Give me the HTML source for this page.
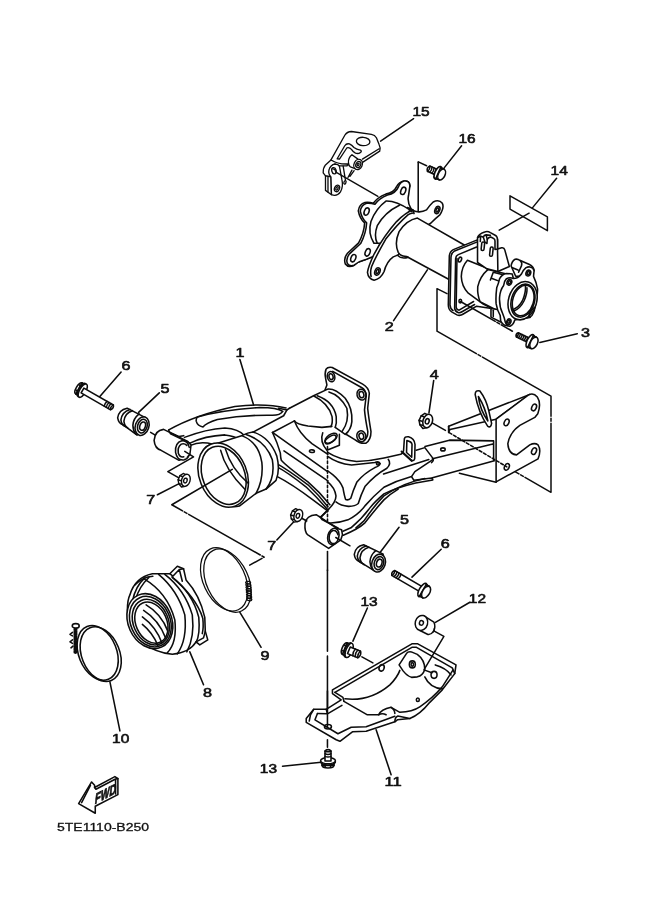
<!DOCTYPE html>
<html><head><meta charset="utf-8"><title>5TE1110-B250</title>
<style>
html,body{margin:0;padding:0;background:#fff;}
body{width:661px;height:913px;overflow:hidden;font-family:"Liberation Sans",sans-serif;}
svg{display:block;}
.l{fill:none;stroke:#0c0c0c;stroke-linecap:round;stroke-linejoin:round;}
.w{fill:#fff;stroke:#0c0c0c;stroke-linecap:round;stroke-linejoin:round;}
.k{fill:#1a1a1a;stroke:none;}
.t{font-family:"Liberation Sans",sans-serif;font-size:12.9px;fill:#111;stroke:#111;stroke-width:0.62px;stroke-linejoin:round;}
</style></head><body>
<svg width="661" height="913" viewBox="0 0 661 913">
<rect width="661" height="913" fill="#fff"/>
<!-- 05_leaders_top -->
<g class="l" stroke-width="1.50">
<!-- 15 leader -->
<path d="M413.6,118.7 L380.6,141.2"/>
<!-- 16 leader -->
<path d="M461.6,145.8 L443.6,168.6"/>
<!-- bracket tick 16 -->
<path d="M418.3,161.9 L426.6,165.8"/>
<!-- 14 -->
<path d="M510,195.8 L547.4,216.9 L547.4,230.7 L510,209.1 Z"/>
<path d="M556.6,178.3 L532.4,207.9 M529.1,213.2 L499.2,230.2"/>
<!-- 3 leader -->
<path d="M577.3,333.7 L539.8,342.4"/>
<!-- bracket dash-dot line right -->
<path d="M447,293.7 L437,288.7 L437,331.2 L551.0,396.2 L551.0,492.3 L509.8,468.6" stroke-dasharray="99 2 3 2"/>
</g>
<!-- 06_leaders_misc -->
<g class="l" stroke-width="1.56">
<path d="M239.9,359.6 L253.6,404.9"/>
<path d="M121.1,372 L99.4,396.9"/>
<path d="M159.3,392.9 L138.6,412.4"/>
<path d="M157.4,494.8 L179.1,483.6"/>
</g>
<!-- 10_p15 -->
<g transform="translate(318,122) scale(0.09985)" stroke-width="13.20">
<!-- upper plate -->
<path class="w" d="M130,380 L270,130 Q290,98 335,95 L535,124 Q570,130 585,158 L612,225 Q630,262 618,292 L450,402 L300,430 L200,425 Z"/>
<path class="l" d="M612,268 L445,372"/>
<ellipse class="w" cx="452" cy="195" rx="68" ry="42" transform="rotate(4 452 195)"/>
<!-- hook slot -->
<path class="w" d="M192,368 L268,238 Q285,212 315,220 Q340,232 360,255 Q385,275 425,282 Q442,290 425,305 Q405,322 375,312 Q350,300 335,275 Q315,250 290,258 L215,372 Z"/>
<!-- lower-left arm -->
<path class="w" d="M130,380 L75,430 Q50,460 52,510 L75,540 L130,550 L120,470 Q130,430 170,420 L215,440 L290,440 L300,420 Q200,425 130,380 Z"/>
<!-- tab left face -->
<path class="w" d="M75,540 L75,685 L135,728 L130,550 Z"/>
<path class="l" d="M100,548 L100,700"/>
<!-- tab front -->
<path class="w" d="M130,550 Q100,520 110,480 Q125,430 170,422 Q205,425 215,445 L240,580 Q255,650 225,700 Q190,750 135,728 Z"/>
<ellipse class="l" cx="160" cy="488" rx="22" ry="32" transform="rotate(-15 160 488)"/>
<path class="l" d="M150,470 Q170,470 175,490"/>
<ellipse class="l" cx="190" cy="665" rx="24" ry="34" transform="rotate(25 190 665)"/>
<ellipse class="l" cx="190" cy="665" rx="10" ry="18" transform="rotate(25 190 665)"/>
<!-- ribs -->
<path class="l" d="M252,442 L274,578 M340,482 L300,556 M362,488 L320,545"/>
<ellipse class="l" cx="270" cy="605" rx="10" ry="18" transform="rotate(20 270 605)"/>
<!-- boss -->
<path class="w" d="M340,328 Q300,360 305,410 Q308,440 325,450 L385,472 L430,400 L400,372 Z"/>
<ellipse class="w" cx="402" cy="425" rx="41" ry="53" transform="rotate(25 402 425)"/>
<ellipse class="l" cx="404" cy="426" rx="24" ry="32" transform="rotate(25 404 426)"/>
<ellipse class="l" cx="402" cy="425" rx="9" ry="13" transform="rotate(25 402 425)"/>
<!-- leader from hole to flange -->
<path class="l" d="M175,500 L600,745"/>
</g>
<!-- 20_p2_flange -->
<g transform="translate(340,170) scale(0.16641)" stroke-width="9.36">
<!-- rear flange back face -->
<path class="w" id="rf" d="M420,235 Q392,190 402,150 L420,95 Q418,62 385,66 Q355,72 340,100 Q325,135 275,145 Q225,165 200,200 Q175,192 150,195 Q115,205 110,245 Q118,290 148,318 Q145,375 112,438 L45,500 Q20,530 32,565 Q50,590 85,572 Q110,550 150,540 L210,515 L300,300 Z"/>
<path class="w" d="M428,235 Q402,192 412,152 L420,95 Q418,62 385,66 Q362,72 350,103 Q335,140 285,150 Q235,170 210,206 Q185,198 160,200 Q128,210 122,247 Q130,290 160,318 Q157,378 124,442 L57,504 Q34,532 44,562 Q58,582 85,572 Q110,550 150,540 L210,515 L300,300 Z"/>
<ellipse class="l" cx="380" cy="125" rx="14" ry="23" transform="rotate(22 380 125)"/>
<ellipse class="l" cx="160" cy="250" rx="14" ry="23" transform="rotate(22 160 250)"/>
<ellipse class="l" cx="80" cy="530" rx="14" ry="23" transform="rotate(22 80 530)"/>
<ellipse class="l" cx="166" cy="495" rx="14" ry="23" transform="rotate(22 166 495)"/>
<!-- hub -->
<path class="w" d="M278,186 Q215,232 186,310 Q166,380 204,440 L300,440 L420,240 Q340,185 278,186 Z"/>
<path class="l" d="M357,212 Q268,255 224,335 Q202,395 224,440"/>

<!-- front flange -->
<path class="w" d="M545,320 Q575,290 600,270 Q628,225 615,200 Q595,175 560,192 Q535,215 520,240 Q480,262 435,242 Q395,255 340,310 Q265,395 205,505 Q170,580 165,615 Q170,655 205,662 Q245,655 265,610 Q280,550 320,522 L350,510 L420,400 Z"/>
<path class="l" d="M187,640 Q180,610 190,580 Q215,520 275,415 Q345,325 410,268 Q425,258 440,258"/>
<ellipse class="l" cx="585" cy="240" rx="14" ry="23" transform="rotate(22 585 240)"/>
<ellipse class="l" cx="225" cy="610" rx="15" ry="23" transform="rotate(22 225 610)"/>
<ellipse class="l" cx="585" cy="240" rx="7" ry="13" transform="rotate(22 585 240)"/>
<ellipse class="l" cx="225" cy="610" rx="7" ry="13" transform="rotate(22 225 610)"/>
<path class="l" d="M405,225 L440,240 L445,262 M420,230 L432,250"/>
<!-- tube -->
<path class="w" d="M465,289 L760,458 L760,720 L661,661 L400,520 Q365,520 350,495 Q325,440 355,370 Q400,300 465,288 Z"/>
<path class="l" d="M345,512 Q370,538 410,524"/>
<!-- vertical line from 16 -->
<path class="l" d="M470,-46 L470,250"/>
<!-- leader 2 -->
<path class="l" d="M525,600 L322,905"/>
</g>
<!-- 22_p2_plate -->
<g transform="translate(435,215) scale(0.16641)" stroke-width="9.36">
<!-- square plate -->
<path class="w" d="M258,148 L110,208 Q88,220 86,248 L80,540 Q80,570 100,582 L132,600 Q150,608 170,595 L250,548 L330,560 L300,300 Z"/>
<path class="l" d="M258,160 L118,216 Q98,228 96,254 L90,540 Q92,565 108,574"/>
<path class="l" d="M250,192 L140,238 Q125,245 124,262 L118,560 Q120,580 138,586 Q150,590 165,580 L238,538"/>
<path class="l" d="M132,262 L127,555 Q130,570 145,572 L232,520"/>
<ellipse class="l" cx="150" cy="268" rx="9" ry="15" transform="rotate(22 150 268)"/>
<ellipse class="l" cx="152" cy="517" rx="8" ry="11"/>
<!-- body cylinder -->
<path class="w" d="M195,272 Q160,310 158,370 Q160,430 200,470 L290,535 L340,560 L340,330 Z"/>
</g>
<g transform="translate(472,228) scale(0.11498)" stroke-width="13.56">
<!-- body -->
<path class="w" d="M140,360 Q70,420 50,510 Q45,580 70,640 L215,715 L300,720 L300,400 Z"/>
<path class="l" d="M185,385 L160,452 M185,385 L262,405 M175,440 L235,462"/>
<!-- lower lug -->
<path class="w" d="M165,700 L165,775 L245,815 L290,830 L290,720 Z"/>
<path class="l" d="M185,715 L185,770"/>
<!-- tab -->
<path class="w" d="M48,82 L48,300 L130,355 L225,378 L325,335 L285,190 Q280,168 258,172 L222,182 L222,100 L120,40 Z"/>
<path class="l" d="M222,182 L225,378 M130,355 L140,362"/>
<path class="w" d="M50,82 Q55,55 110,35 Q135,25 160,40 L205,65 Q224,78 222,112 L222,182 L200,186 L200,112 Q200,98 190,92 L168,80 Q145,76 133,98 L130,135 L112,122 L98,78 L75,72 Z"/>
<path class="l" d="M75,72 L72,118 M98,78 Q105,62 122,60 L160,64 M122,60 L133,98"/>
<rect class="w" x="82" y="122" width="25" height="74" rx="12" transform="rotate(6 95 160)"/>
<rect class="w" x="156" y="166" width="25" height="80" rx="12" transform="rotate(6 170 205)"/>
<!-- flange thickness -->
<path class="w" d="M300,395 Q262,400 240,440 Q232,480 215,520 Q205,600 210,660 Q220,720 245,760 L250,810 Q270,850 310,850 L400,600 L350,400 Z"/>
<!-- top lug -->
<path class="w" d="M340,330 Q345,290 375,272 Q395,266 420,283 L500,318 Q535,335 540,370 L500,420 L380,420 Z"/>
<path class="l" d="M352,345 L400,365 M420,283 Q440,300 430,330 L405,385"/>
<!-- flange front -->
<path class="w" d="M505,340 Q535,345 540,372 L535,420 Q560,470 570,530 Q572,600 548,680 Q548,720 522,760 Q500,790 470,780 Q420,790 372,800 Q360,842 330,855 Q300,852 290,820 Q285,790 265,740 Q235,680 240,600 Q245,540 275,500 Q280,460 300,440 Q330,425 360,440 Q400,440 430,400 Q445,365 470,345 Q490,335 505,340 Z"/>
<ellipse class="w" cx="440" cy="632" rx="122" ry="170" transform="rotate(17 440 632)"/>
<ellipse class="l" cx="443" cy="632" rx="100" ry="147" transform="rotate(17 443 632)"/>
<ellipse class="l" cx="445" cy="631" rx="90" ry="136" transform="rotate(17 445 631)"/>
<path class="l" d="M465,500 Q470,560 440,630 Q410,690 352,712"/>
<path class="l" d="M478,520 Q482,570 452,635 Q420,700 365,722"/>
<ellipse class="l" cx="325" cy="472" rx="20" ry="26" transform="rotate(20 325 472)"/>
<ellipse class="l" cx="325" cy="472" rx="10" ry="14" transform="rotate(20 325 472)"/>
<ellipse class="l" cx="490" cy="392" rx="20" ry="26" transform="rotate(20 490 392)"/>
<ellipse class="l" cx="490" cy="392" rx="10" ry="14" transform="rotate(20 490 392)"/>
<ellipse class="l" cx="320" cy="815" rx="18" ry="25" transform="rotate(20 320 815)"/>
<ellipse class="l" cx="320" cy="815" rx="9" ry="13" transform="rotate(20 320 815)"/>
<path class="l" d="M545,690 Q530,700 500,745 Q490,770 505,778"/>
</g>
<!-- 28_body -->
<g transform="translate(262,360) scale(0.16641)" stroke-width="9.36">
<!-- flange -->
<path class="w" d="M385,55 Q395,40 422,45 L605,145 Q640,165 645,200 L635,290 Q640,340 655,430 Q655,480 625,500 Q590,505 560,480 L495,440 L375,190 L390,150 L383,115 Q375,80 385,55 Z"/>
<path class="l" d="M425,68 L598,165 Q625,180 626,215 L616,300 Q620,350 636,430 Q636,468 615,482"/>
<ellipse class="l" cx="415" cy="100" rx="22" ry="31" transform="rotate(-15 415 100)"/>
<ellipse class="l" cx="415" cy="100" rx="12" ry="18" transform="rotate(-15 415 100)"/>
<ellipse class="l" cx="598" cy="208" rx="27" ry="33" transform="rotate(-15 598 208)"/>
<ellipse class="l" cx="598" cy="208" rx="14" ry="19" transform="rotate(-15 598 208)"/>
<ellipse class="l" cx="597" cy="458" rx="27" ry="33" transform="rotate(-15 597 458)"/>
<ellipse class="l" cx="597" cy="458" rx="14" ry="19" transform="rotate(-15 597 458)"/>
<!-- neck -->
<path d="M165,290 L310,215 L395,175 Q440,170 500,230 Q545,290 540,370 Q535,420 500,447 L440,405 L420,399 L360,405 L276,397 Q208,386 195,366 Z" fill="#fff" stroke="none"/>
<path class="l" d="M165,290 L310,215 L395,175 Q440,170 500,230 Q545,290 540,370 Q535,420 500,447 L440,405"/>
<path class="l" d="M195,366 Q208,386 276,397 L360,405 L420,399"/>
<path class="l" d="M402,192 Q470,212 510,290 Q525,370 482,428"/>
<path class="l" d="M332,215 Q430,250 446,340 Q450,380 440,405"/>
<path class="l" d="M312,216 Q400,260 421,340 Q426,380 414,400"/>
<!-- body lines -->
<path class="l" d="M100,290 L150,300 L165,290"/>
<path class="l" d="M150,300 L130,335 L-80,448"/>
<path class="l" d="M63,435.5 L195,366"/>
<path class="l" d="M195,366 Q222,440 300,502 L396,567"/>
<path class="l" d="M63,435.5 L396,672.5"/>
<path class="l" d="M132,546.5 L396,726.5"/>
<ellipse class="l" cx="300" cy="548" rx="15" ry="8" transform="rotate(8 300 548)"/>
<path class="l" d="M63,435.5 Q92,495 110,558 Q112,590 116,602 Q150,640 276,732 Q350,795 408,870"/>
<path class="l" d="M81,618 Q150,655 276,750 Q345,815 396,882"/>
<path class="l" d="M90,642 Q150,672 264,762 Q335,830 390,894"/>
<path class="l" d="M84,696 Q180,745 306,840 L396,908"/>
<!-- neck bottom -->
<path class="l" d="M365,437 Q345,490 390,542 L465,512 L465,447"/>
<ellipse class="l" cx="415" cy="470" rx="42" ry="22" transform="rotate(-35 415 470)"/>
<ellipse class="l" cx="412" cy="478" rx="38" ry="17" transform="rotate(-35 412 478)"/>
</g>
<!-- 29_arm_right -->
<g transform="translate(325,420) scale(0.16641)" stroke-width="9.36">
<!-- top edge of arm -->
<path class="l" d="M16,195 Q85,240 190,249 Q280,245 355,228 L455,206 L478,192 M548,182 L600,166 L650,232 Q655,245 640,256"/>
<path class="l" d="M352,324 L624,238"/>
<!-- pocket inner -->
<path class="l" d="M16,219 Q75,262 160,271 L300,255 Q322,246 332,262 Q328,276 300,286 Q235,320 192,372 Q168,425 155,470 Q140,484 124,478 Q116,455 108,408 Q90,365 48,330 L16,305"/>
<ellipse class="l" cx="318" cy="263" rx="9" ry="7"/>
<!-- pocket outer border -->
<path class="l" d="M380,236 Q400,262 372,290 Q300,330 240,400 Q215,450 200,502 Q180,520 140,519 Q95,515 66,492"/>
<!-- edge B continuation -->
<path class="l" d="M16,372 Q58,405 66,456 Q66,492 18,540 L-18,576"/>
<!-- lower edge of top face -->
<path class="l" d="M648,238 L540,310 L520,340 Q430,365 354,404 Q290,458 240,516 Q200,570 138,600 Q80,622 16,618 L-18,594 L-24,582 L6,552"/>
<!-- bottom edges -->
<path class="l" d="M520,340 L534,362 L642,348 L648,360 L545,378 Q430,405 354,444 Q300,490 270,528 Q222,594 156,648 L108,668"/>
<path class="l" d="M600,352 Q470,378 354,456 Q300,510 234,606 L186,648"/>
<path class="l" d="M440,415 Q390,445 354,480 Q300,540 240,618 Q200,655 110,692"/>
<!-- loop -->
<path class="w" d="M477,112 Q480,99 502,101 Q538,112 541,147 L539,232 Q536,248 519,242 L466,195 Q470,190 472,186 Z"/>
<path class="l" d="M492,124 Q520,130 523,146 L521,224 L490,195 Z"/>
<path class="l" d="M460,189 L522,246" stroke-width="12.00"/>
<!-- vertical dotted -->
<path class="l" d="M15,160 L15,640" stroke-dasharray="15 14" stroke-linecap="butt"/>
<path class="l" d="M15,790 L15,905"/>
<!-- lower boss -->
<path class="w" d="M-53,569 Q-112,572 -120,622 Q-124,675 -103,690 L22,772 L95,720 L105,690 L100,660 L74,652 Z"/>
<ellipse class="w" cx="50" cy="700" rx="33" ry="50" transform="rotate(15 50 700)"/>
<path class="l" d="M78,690 Q70,660 48,664 Q22,675 25,715 Q32,748 60,742"/>
<path class="l" d="M-30,580 L-18,598 L80,650"/>
<path class="l" d="M65,706 L150,756"/>
<!-- bushing 5 -->
<path class="w" d="M232,750 Q182,760 176,808 Q180,842 205,850 L300,908 L350,806 Z"/>
<path class="l" d="M248,757 Q200,770 194,818 Q198,850 220,860 M263,764 Q216,778 210,828 Q214,858 236,870"/>
<path class="l" d="M305,785 Q272,812 270,852 Q272,880 285,898"/>
<ellipse class="w" cx="322" cy="860" rx="40" ry="55" transform="rotate(18 322 860)"/>
<ellipse class="l" cx="324" cy="860" rx="28" ry="40" transform="rotate(18 324 860)"/>
<ellipse class="l" cx="326" cy="860" rx="16" ry="24" transform="rotate(18 326 860)"/>
<!-- leader 5 -->
<path class="l" d="M445,645 L332,795"/>
</g>
<!-- 30_arm_left -->
<g transform="translate(160,370) scale(0.24962)" stroke-width="6.24">
<!-- arm lines -->
<path class="l" d="M35,240 Q140,180 300,146 Q420,132 505,152"/>
<path class="l" d="M150,188 Q250,160 400,150 Q470,150 492,166 Q480,184 440,181 Q330,180 230,198 Q185,212 172,228 Q150,224 145,205 Q144,194 150,188 Z"/>
<path class="l" d="M98,270 Q185,236 260,232 Q315,236 338,262"/>
<path class="l" d="M120,293 Q180,264 260,260 Q300,264 320,280"/>
<path class="l" d="M122,302 Q160,284 212,297"/>
<path class="l" d="M40,250 L75,266 L95,263"/>
<!-- big ring cylinder + collar -->
<path class="w" d="M215,298 L330,262 Q352,250 372,248 Q440,270 468,345 Q482,400 465,442 L425,477 L385,494 L318,545 Q250,560 200,480 Q140,380 175,320 Q190,298 215,298 Z"/>
<path class="l" d="M330,264 Q395,290 408,370 Q415,440 385,494"/>
<path class="l" d="M345,258 Q425,285 450,360 Q462,430 425,477"/>
<ellipse class="w" cx="253" cy="421" rx="95" ry="133" transform="rotate(-22 253 421)"/>
<ellipse class="l" cx="255" cy="422" rx="84" ry="121" transform="rotate(-22 255 422)"/>
<path class="l" d="M243,322 Q262,400 340,478"/>
<path class="l" d="M262,316 Q285,395 352,452"/>
</g>
<g transform="translate(55,350) scale(0.24962)" stroke-width="6.24">
<!-- left boss -->
<path class="w" d="M435,318 Q400,322 397,362 Q400,395 425,402 L497,442 L540,420 L545,380 L530,365 Z"/>
<ellipse cx="510" cy="402" rx="28" ry="39" transform="rotate(15 510 402)" fill="#fff" stroke="none"/>
<path class="l" d="M538,390 Q530,360 508,364 Q480,372 483,410 Q490,445 518,440 Q532,436 536,424"/>
<path class="l" d="M528,382 Q518,372 506,377 Q490,388 494,414 Q500,432 516,428"/>
<path class="l" d="M455,321 L463,336 L538,372"/>
<!-- bushing 5 -->
<path class="w" d="M289,233 Q255,240 251,272 Q255,295 272,299 L329,341 L364,272 Z"/>
<path class="l" d="M300,238 Q268,248 264,280 Q266,300 282,307 M310,243 Q280,252 276,285 Q278,305 292,313"/>
<path class="l" d="M337,256 Q313,275 312,302 Q313,324 323,336"/>
<ellipse class="w" cx="349" cy="305" rx="27" ry="38" transform="rotate(18 349 305)"/>
<ellipse class="l" cx="350" cy="305" rx="19" ry="28" transform="rotate(18 350 305)"/>
<ellipse class="l" cx="351" cy="305" rx="11" ry="17" transform="rotate(18 351 305)"/>
<path class="l" d="M383,330 L400,340"/>
<!-- bracket to nut 7 -->
<path class="l" d="M520,406 L555,428 L452,487 L498,513"/>
<!-- big dash-dot bracket -->
<path class="l" d="M710,478 L468,620 L838,830 L780,862" stroke-dasharray="330 8 12 8"/>
</g>
<!-- 32_bracket -->
<g transform="translate(400,370) scale(0.24962)" stroke-width="6.24">
<!-- tube -->
<path class="l" d="M100,306 L198,281 L375,284 M130,356 L372,296 M130,432 L378,364 M375,284 L375,362"/>
<ellipse class="l" cx="172" cy="318" rx="9" ry="6"/>
<!-- lower gusset -->
<path class="l" d="M238,414 L385,450"/>
<!-- top gusset -->
<path class="w" d="M195,225 L520,98 L385,197 L200,238 L195,250 Z"/>
<path class="l" d="M195,225 L195,250"/>
<!-- front plate -->
<path class="w" d="M385,197 L515,100 Q535,90 550,108 Q567,135 552,175 L540,190 L480,222 Q440,250 432,295 Q435,338 467,340 L520,300 Q540,290 553,300 Q567,322 553,356 L385,448 Z"/>
<ellipse class="l" cx="537" cy="150" rx="9" ry="14" transform="rotate(25 537 150)"/>
<ellipse class="l" cx="427" cy="210" rx="9" ry="14" transform="rotate(25 427 210)"/>
<ellipse class="l" cx="537" cy="325" rx="9" ry="14" transform="rotate(25 537 325)"/>
<ellipse class="l" cx="428" cy="388" rx="9" ry="14" transform="rotate(25 428 388)"/>
<!-- big loop -->
<path class="w" d="M301,98 Q302,79 320,84 Q346,118 356,165 L367,214 Q364,234 351,225 Q314,170 301,98 Z"/>
<path class="l" d="M314,106 Q342,150 352,204 Q320,160 314,106 Z"/>
<path class="l" d="M118,206 L182,242"/>
<path class="l" d="M197,251 L428,388" stroke-dasharray="12 8"/>
<!-- leader 4 -->
<path class="l" d="M135,42 L116,172"/>
<!-- leader 6 lower -->
<path class="l" d="M165,718 L48,830"/>
</g>
<!-- 40_boot -->
<g transform="translate(60,545) scale(0.24962)" stroke-width="6.24">
<!-- ring 10 -->
<ellipse class="l" cx="151" cy="432" rx="76" ry="114" transform="rotate(-22 151 432)"/>
<ellipse class="l" cx="163" cy="437" rx="76" ry="114" transform="rotate(-22 163 437)"/>
<!-- screw -->
<path class="l" d="M62,335 L62,432" stroke-width="13.20" stroke-dasharray="5 5" stroke-linecap="butt"/>
<path class="l" d="M56,335 L56,432 M68,335 L68,432" stroke-width="3.00"/>
<ellipse class="w" cx="63" cy="324" rx="14" ry="9"/>
<path class="l" d="M50,350 L40,358 L50,364 M50,380 L40,388 L50,394 M52,405 L44,412"/>
<!-- leader 10 -->
<path class="l" d="M200,548 L240,745"/>
<!-- boot 8 -->
<path class="w" d="M280,200 Q300,130 370,115 L440,115 L470,85 L495,95 L505,140 Q560,200 580,290 L582,345 L592,380 L560,400 L545,388 Q520,430 450,438 Q380,430 330,390 Q270,320 270,260 Q270,220 280,200 Z"/>
<path class="l" d="M440,115 L452,125 L478,98 L495,95 M478,98 L490,145"/>
<path class="l" d="M545,388 L575,372 L582,345"/>
<path class="l" d="M335,135 Q430,190 460,300 Q470,390 430,432"/>
<path class="l" d="M395,118 Q470,180 500,280 Q510,380 470,436"/>
<path class="l" d="M420,118 Q500,180 530,280 Q540,370 508,428"/>
<path class="l" d="M448,128 Q530,190 556,290 Q562,360 545,390"/>
<path class="l" d="M300,160 Q330,128 372,125"/>
<path class="l" d="M340,132 Q302,165 290,226 M356,130 Q316,168 303,218"/>
<path class="l" d="M452,132 Q545,210 572,293 Q576,330 570,355"/>
<ellipse class="w" cx="360" cy="305" rx="87" ry="114" transform="rotate(-24 360 305)"/>
<ellipse class="l" cx="362" cy="307" rx="79" ry="105" transform="rotate(-24 362 307)"/>
<ellipse class="l" cx="364" cy="309" rx="70" ry="95" transform="rotate(-24 364 309)"/>
<ellipse class="l" cx="366" cy="311" rx="62" ry="86" transform="rotate(-24 366 311)"/>
<path class="l" d="M345,240 Q405,275 432,345"/>
<path class="l" d="M335,262 Q395,300 423,372"/>
<path class="l" d="M330,288 Q385,328 408,392"/>
<path class="l" d="M330,318 Q370,350 392,402"/>
<!-- leader 8 -->
<path class="l" d="M520,428 L575,560"/>
</g>
<!-- 42_ring9 -->
<g transform="translate(170,510) scale(0.24962)" stroke-width="6.24">
<ellipse class="l" cx="217" cy="278" rx="84" ry="134" transform="rotate(-25 217 278)" stroke-width="5.04"/>
<ellipse class="l" cx="230" cy="283" rx="84" ry="134" transform="rotate(-25 230 283)" stroke-width="5.04"/>
<ellipse class="l" cx="313.0" cy="291.0" rx="10" ry="5.2" stroke-width="5.04" transform="rotate(8 313.0 291.0)"/>
<ellipse class="l" cx="313.7" cy="300.6" rx="10" ry="5.2" stroke-width="5.04" transform="rotate(8 313.7 300.6)"/>
<ellipse class="l" cx="314.4" cy="310.2" rx="10" ry="5.2" stroke-width="5.04" transform="rotate(8 314.4 310.2)"/>
<ellipse class="l" cx="315.1" cy="319.8" rx="10" ry="5.2" stroke-width="5.04" transform="rotate(8 315.1 319.8)"/>
<ellipse class="l" cx="315.8" cy="329.4" rx="10" ry="5.2" stroke-width="5.04" transform="rotate(8 315.8 329.4)"/>
<ellipse class="l" cx="316.5" cy="339.0" rx="10" ry="5.2" stroke-width="5.04" transform="rotate(8 316.5 339.0)"/>
<ellipse class="l" cx="317.2" cy="348.6" rx="10" ry="5.2" stroke-width="5.04" transform="rotate(8 317.2 348.6)"/>
<ellipse class="l" cx="317.9" cy="358.2" rx="10" ry="5.2" stroke-width="5.04" transform="rotate(8 317.9 358.2)"/>
<!-- leader 9 -->
<path class="l" d="M280,410 L365,550"/>
<path class="l" d="M526,32 L548,44"/>
<!-- leader 7 lower -->
<path class="l" d="M428,120 L495,48"/>
</g>
<!-- 50_plate -->
<g transform="translate(295,590) scale(0.24962)" stroke-width="6.24">
<!-- vertical line from arm -->
<path class="l" d="M130,-80 L130,245 M130,265 L130,548"/>
<!-- plate outline -->
<path class="w" d="M45,515 L75,478 L125,478 L185,440 L150,415 L150,400 L470,215 L490,215 L645,300 L640,335 L590,400 L540,450 Q500,500 460,515 L410,520 L400,528 L285,566 L230,568 L180,606 L165,600 L45,530 Z"/>
<path class="l" d="M130,405 L130,548"/>
<path class="l" d="M160,410 L470,229 L485,229 L630,312 L640,335"/>
<path class="l" d="M160,410 L192,430 L196,446"/>
<path class="l" d="M200,436 Q300,448 380,380 Q410,350 420,322"/>
<path class="l" d="M196,446 L290,500 L335,500 Q345,478 385,470 L420,490 Q470,488 500,468 Q550,435 590,388 L632,322"/>
<path class="l" d="M335,500 Q350,492 365,500 M385,470 Q400,480 400,495"/>
<path class="l" d="M400,528 Q400,510 412,505 L460,515"/>
<path class="l" d="M417,300 L447,254 Q452,246 466,248 L490,258 Q520,280 520,318 Q512,342 490,348 L467,350 Q450,345 433,324 Z"/>
<ellipse class="l" cx="470" cy="298" rx="12" ry="14"/>
<ellipse class="l" cx="470" cy="298" rx="5" ry="7"/>
<ellipse class="l" cx="557" cy="340" rx="12" ry="14"/>
<ellipse class="l" cx="492" cy="440" rx="6" ry="7"/>
<ellipse class="l" cx="347" cy="312" rx="10" ry="13" transform="rotate(20 347 312)"/>
<path class="l" d="M520,348 Q540,392 590,396"/>
<path class="l" d="M562,300 Q605,312 625,340"/>
<!-- left tab -->
<path class="l" d="M75,478 L62,500 L57,525 M90,495 L80,520 L172,576 L225,550 L285,548 L400,506"/>
<path class="l" d="M125,478 L130,496 L188,462 M90,495 L130,496"/>
<ellipse class="l" cx="132" cy="548" rx="14" ry="9"/>
<!-- below plate line -->
<path class="l" d="M130,600 L130,630"/>
<!-- leader 11 -->
<path class="l" d="M325,560 L385,740"/>
<!-- leader 13 upper -->
<path class="l" d="M290,72 L232,205"/>
<path class="l" d="M268,268 L312,292"/>
<!-- leader 13 lower -->
<path class="l" d="M-50,706 L105,690"/>
</g>
<!-- 52_collar -->
<g transform="translate(380,555) scale(0.09985)" stroke-width="15.00">
<path class="w" d="M440,610 L540,672 Q562,720 532,770 Q510,800 480,796 L400,756 Z"/>
<ellipse class="w" cx="415" cy="680" rx="62" ry="76" transform="rotate(15 415 680)"/>
<ellipse class="l" cx="415" cy="680" rx="20" ry="23" transform="rotate(15 415 680)"/>
<path class="l" d="M530,772 Q548,762 545,735"/>
<path class="l" d="M555,675 L900,473"/>
<path class="l" d="M548,765 L640,815 L440,1150 L520,1180"/>
</g>
<!-- 60_bolts -->
<g transform="translate(516.5,334.4) rotate(26)" stroke-width="1.56">
<path class="w" d="M0.8,-2.3 L15.2,-2.3 L15.2,2.3 L0.8,2.3 Q-1.27,0 0.8,-2.3 Z"/>
<path class="l" d="M1.20,-2.3 Q2.17,0 1.20,2.3 M3.20,-2.3 Q4.17,0 3.20,2.3 M5.20,-2.3 Q6.17,0 5.20,2.3 M7.20,-2.3 Q8.17,0 7.20,2.3 M9.20,-2.3 Q10.17,0 9.20,2.3 M11.20,-2.3 Q12.17,0 11.20,2.3 " stroke-width="1.48"/>
<ellipse class="w" cx="15.2" cy="0" rx="3.02" ry="7.2"/>
<path class="w" d="M15.7,-6.2 L19.4,-6.2 L19.4,6.2 L15.7,6.2 Z" stroke="none"/>
<path class="l" d="M15.5,-6.2 L19.4,-6.2 M15.5,6.2 L19.4,6.2 M16.0,-2.79 L17.799999999999997,-2.79 M16.0,3.1 L17.799999999999997,3.1"/>
<ellipse class="w" cx="19.4" cy="0" rx="3.50" ry="6.2"/>
</g>
<g transform="translate(427.8,168.3) rotate(24)" stroke-width="1.56">
<path class="w" d="M0.8,-2.9 L11,-2.9 L11,2.9 L0.8,2.9 Q-1.52,0 0.8,-2.9 Z"/>
<path class="l" d="M1.20,-2.9 Q2.42,0 1.20,2.9 M3.40,-2.9 Q4.62,0 3.40,2.9 M5.60,-2.9 Q6.82,0 5.60,2.9 M7.80,-2.9 Q9.02,0 7.80,2.9 " stroke-width="1.48"/>
<ellipse class="w" cx="11" cy="0" rx="2.86" ry="6.8"/>
<path class="w" d="M11.5,-5.8 L15.2,-5.8 L15.2,5.8 L11.5,5.8 Z" stroke="none"/>
<path class="l" d="M11.3,-5.8 L15.2,-5.8 M11.3,5.8 L15.2,5.8 M11.8,-2.61 L13.6,-2.61 M11.8,2.9 L13.6,2.9"/>
<ellipse class="w" cx="15.2" cy="0" rx="3.34" ry="5.8"/>
</g>
<g transform="translate(392.5,572.5) rotate(30.3)" stroke-width="1.56">
<path class="w" d="M0.8,-2.8 L34.7,-2.8 L34.7,2.8 L0.8,2.8 Q-1.48,0 0.8,-2.8 Z"/>
<path class="l" d="M1.20,-2.8 Q2.38,0 1.20,2.8 M3.50,-2.8 Q4.68,0 3.50,2.8 M5.80,-2.8 Q6.98,0 5.80,2.8 M8.10,-2.8 Q9.28,0 8.10,2.8 " stroke-width="1.48"/>
<ellipse class="w" cx="34.7" cy="0" rx="3.15" ry="7.5"/>
<path class="w" d="M35.2,-6.5 L38.900000000000006,-6.5 L38.900000000000006,6.5 L35.2,6.5 Z" stroke="none"/>
<path class="l" d="M35.0,-6.5 L38.900000000000006,-6.5 M35.0,6.5 L38.900000000000006,6.5 M35.5,-2.9250000000000003 L37.300000000000004,-2.9250000000000003 M35.5,3.25 L37.300000000000004,3.25"/>
<ellipse class="w" cx="38.900000000000006" cy="0" rx="3.63" ry="6.5"/>
</g>
<g transform="translate(112.7,407.8) rotate(209.8)" stroke-width="1.56">
<ellipse class="w" cx="39.0" cy="0" rx="2.65" ry="6.3"/>
<path class="w" d="M34.8,-6.3 L39.0,-6.3 L39.0,6.3 L34.8,6.3 Z" stroke="none"/>
<path class="l" d="M34.8,-6.3 L39.0,-6.3 M34.8,6.3 L39.0,6.3 M36.3,-2.835 L40.5,-2.835 M36.3,3.15 L40.5,3.15"/>
<ellipse class="w" cx="35.599999999999994" cy="0" rx="3.15" ry="7.5"/>
<ellipse class="w" cx="34.5" cy="0" rx="3.15" ry="7.5"/>
<path class="w" d="M0.8,-2.8 L34.8,-2.8 L34.8,2.8 L0.8,2.8 Q-1.48,0 0.8,-2.8 Z"/>
<path class="l" d="M1.20,-2.8 Q2.38,0 1.20,2.8 M3.50,-2.8 Q4.68,0 3.50,2.8 M5.80,-2.8 Q6.98,0 5.80,2.8 M8.10,-2.8 Q9.28,0 8.10,2.8 " stroke-width="1.48"/>
</g>
<g transform="translate(360,654.8) rotate(202)" stroke-width="1.56">
<ellipse class="w" cx="16.5" cy="0" rx="2.60" ry="6.2"/>
<path class="w" d="M12.0,-6.2 L16.5,-6.2 L16.5,6.2 L12.0,6.2 Z" stroke="none"/>
<path class="l" d="M12.0,-6.2 L16.5,-6.2 M12.0,6.2 L16.5,6.2 M13.5,-2.79 L18.0,-2.79 M13.5,3.1 L18.0,3.1"/>
<ellipse class="w" cx="12.8" cy="0" rx="3.19" ry="7.6"/>
<ellipse class="w" cx="11.7" cy="0" rx="3.19" ry="7.6"/>
<path class="w" d="M0.8,-3.6 L12.0,-3.6 L12.0,3.6 L0.8,3.6 Q-1.81,0 0.8,-3.6 Z"/>
<path class="l" d="M1.20,-3.6 Q2.71,0 1.20,3.6 M3.80,-3.6 Q5.31,0 3.80,3.6 M6.40,-3.6 Q7.91,0 6.40,3.6 " stroke-width="1.48"/>
</g>
<g transform="translate(328,750) rotate(90)" stroke-width="1.56">
<ellipse class="w" cx="15.5" cy="0" rx="2.44" ry="5.8"/>
<path class="w" d="M11,-5.8 L15.5,-5.8 L15.5,5.8 L11,5.8 Z" stroke="none"/>
<path class="l" d="M11,-5.8 L15.5,-5.8 M11,5.8 L15.5,5.8 M12.5,-2.61 L17.0,-2.61 M12.5,2.9 L17.0,2.9"/>
<ellipse class="w" cx="11.8" cy="0" rx="3.11" ry="7.4"/>
<ellipse class="w" cx="10.7" cy="0" rx="3.11" ry="7.4"/>
<path class="w" d="M0.8,-3.0 L11,-3.0 L11,3.0 L0.8,3.0 Q-1.56,0 0.8,-3.0 Z"/>
<path class="l" d="M1.20,-3.0 Q2.46,0 1.20,3.0 M3.80,-3.0 Q5.06,0 3.80,3.0 M6.40,-3.0 Q7.66,0 6.40,3.0 " stroke-width="1.48"/>
</g>
<!-- 62_nuts -->
<g transform="translate(426,421) scale(1.0)" stroke-width="1.56">
<path class="w" d="M-1.2,-7.6 L-4.8,-5.2 L-6.9,-0.6 L-6.1,3.8 L-3.1,7.4 L1,6.6 L2,-6 Z"/>
<path class="l" d="M-4.8,-5.2 L-2.2,-4.2 M-6.9,-0.6 L-3.8,0.3 M-6.1,3.8 L-3.4,4.3"/>
<ellipse class="w" cx="1.7" cy="0" rx="4.7" ry="6.9" transform="rotate(18 1.7 0)"/>
<ellipse class="l" cx="1.2" cy="0.3" rx="1.9" ry="2.7" transform="rotate(18 1.2 0.3)"/>
</g>
<g transform="translate(184.3,480.3) scale(0.9)" stroke-width="1.56">
<path class="w" d="M-1.2,-7.6 L-4.8,-5.2 L-6.9,-0.6 L-6.1,3.8 L-3.1,7.4 L1,6.6 L2,-6 Z"/>
<path class="l" d="M-4.8,-5.2 L-2.2,-4.2 M-6.9,-0.6 L-3.8,0.3 M-6.1,3.8 L-3.4,4.3"/>
<ellipse class="w" cx="1.7" cy="0" rx="4.7" ry="6.9" transform="rotate(18 1.7 0)"/>
<ellipse class="l" cx="1.2" cy="0.3" rx="1.9" ry="2.7" transform="rotate(18 1.2 0.3)"/>
</g>
<g transform="translate(296.8,515.5) scale(0.9)" stroke-width="1.56">
<path class="w" d="M-1.2,-7.6 L-4.8,-5.2 L-6.9,-0.6 L-6.1,3.8 L-3.1,7.4 L1,6.6 L2,-6 Z"/>
<path class="l" d="M-4.8,-5.2 L-2.2,-4.2 M-6.9,-0.6 L-3.8,0.3 M-6.1,3.8 L-3.4,4.3"/>
<ellipse class="w" cx="1.7" cy="0" rx="4.7" ry="6.9" transform="rotate(18 1.7 0)"/>
<ellipse class="l" cx="1.2" cy="0.3" rx="1.9" ry="2.7" transform="rotate(18 1.2 0.3)"/>
</g>
<!-- 65_over -->
<g class="l" stroke-width="1.56">
<path d="M460.5,301.5 L512.4,331.2" stroke-dasharray="40 2 3 2"/>
</g>
<!-- 70_fwd -->
<g transform="translate(50,765) scale(0.16641)" stroke-width="9.36">
<path class="w" d="M172,232 L250,102 L268,122 L268,135 L390,70 L408,82 L408,178 L272,248 L272,290 Z"/>
<path class="l" d="M190,226 L243,122 M276,146 L394,84 L394,174 M394,84 L408,82 M276,146 L268,135"/>
<text style="filter:grayscale(1)" transform="matrix(1,-0.52,-0.12,1,268,236)" font-family="Liberation Sans, sans-serif" font-weight="bold" font-size="90" textLength="126" lengthAdjust="spacingAndGlyphs" fill="#111" stroke="#111" stroke-width="5.40">FWD</text>
</g>
<!-- 90_labels -->
<g class="t" style="filter:grayscale(1)">
<text x="412.4" y="116" textLength="17.2" lengthAdjust="spacingAndGlyphs">15</text>
<text x="458.5" y="142.5" textLength="17.2" lengthAdjust="spacingAndGlyphs">16</text>
<text x="550.6" y="175.3" textLength="17.2" lengthAdjust="spacingAndGlyphs">14</text>
<text x="581.1" y="337" textLength="9.0" lengthAdjust="spacingAndGlyphs">3</text>
<text x="384.8" y="331" textLength="9.0" lengthAdjust="spacingAndGlyphs">2</text>
<text x="235.5" y="357" textLength="9.0" lengthAdjust="spacingAndGlyphs">1</text>
<text x="429.8" y="378.7" textLength="9.0" lengthAdjust="spacingAndGlyphs">4</text>
<text x="121.6" y="370" textLength="9.0" lengthAdjust="spacingAndGlyphs">6</text>
<text x="160.4" y="393" textLength="9.0" lengthAdjust="spacingAndGlyphs">5</text>
<text x="146.2" y="504.3" textLength="9.0" lengthAdjust="spacingAndGlyphs">7</text>
<text x="267.3" y="549.8" textLength="9.0" lengthAdjust="spacingAndGlyphs">7</text>
<text x="400.1" y="524.3" textLength="9.0" lengthAdjust="spacingAndGlyphs">5</text>
<text x="440.7" y="547.7" textLength="9.0" lengthAdjust="spacingAndGlyphs">6</text>
<text x="260.4" y="660.3" textLength="9.0" lengthAdjust="spacingAndGlyphs">9</text>
<text x="202.9" y="697.2" textLength="9.0" lengthAdjust="spacingAndGlyphs">8</text>
<text x="112.1" y="742.5" textLength="17.2" lengthAdjust="spacingAndGlyphs">10</text>
<text x="360.4" y="606.2" textLength="17.2" lengthAdjust="spacingAndGlyphs">13</text>
<text x="468.8" y="602.5" textLength="17.2" lengthAdjust="spacingAndGlyphs">12</text>
<text x="259.8" y="772.9" textLength="17.2" lengthAdjust="spacingAndGlyphs">13</text>
<text x="384.6" y="786" textLength="17.2" lengthAdjust="spacingAndGlyphs">11</text>
<text x="57" y="831.3" textLength="92" lengthAdjust="spacingAndGlyphs" style="font-size:11.4px;font-weight:normal;stroke:#111;stroke-width:0.3px">5TE1110-B250</text>
</g>
</svg>
</body></html>
